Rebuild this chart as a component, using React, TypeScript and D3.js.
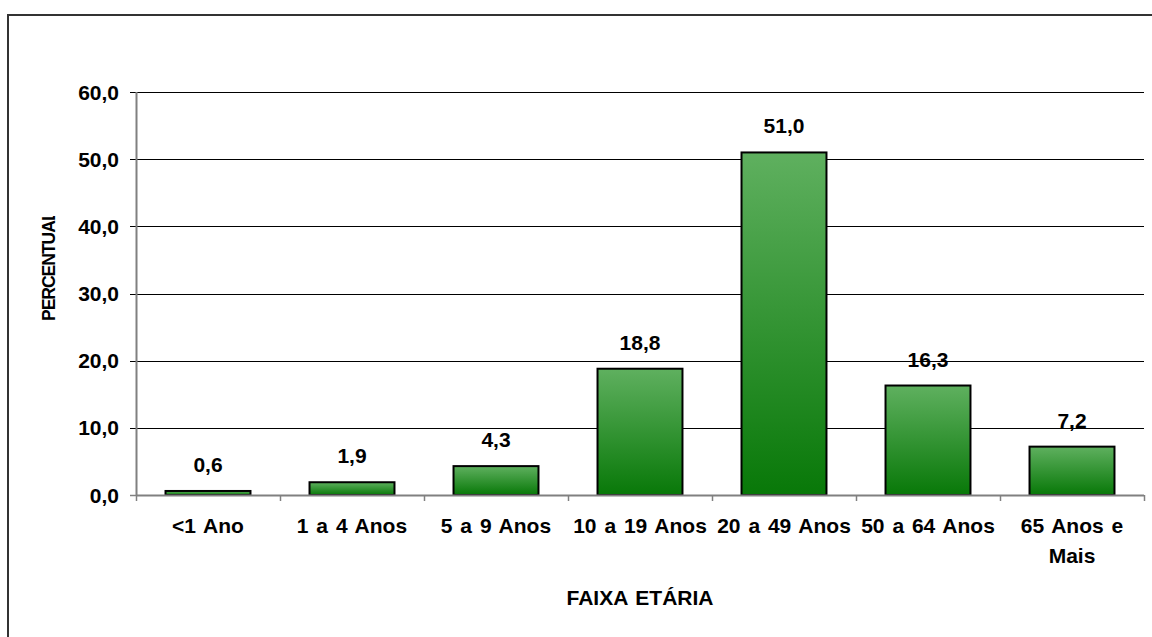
import React from 'react';
import * as d3 from 'd3';

const categories = ['<1 Ano', '1 a 4 Anos', '5 a 9 Anos', '10 a 19 Anos', '20 a 49 Anos', '50 a 64 Anos', '65 Anos e|Mais'];
const values = [0.6, 1.9, 4.3, 18.8, 51.0, 16.3, 7.2];
const yTicks = [0, 10, 20, 30, 40, 50, 60];

const W = 1152;
const H = 637;
const margin = { top: 92, right: 8, bottom: 142, left: 136 };
const font = '"Liberation Sans", Arial, sans-serif';
const fs = 21;

const fmt = (v: number) => v.toFixed(1).replace('.', ',');

export default function App() {
  const x = d3
    .scaleBand()
    .domain(categories)
    .range([margin.left, W - margin.right])
    .padding(0);
  const y = d3
    .scaleLinear()
    .domain([0, 60])
    .range([H - margin.bottom, margin.top]);

  const barW = x.step() * 0.59;
  const x0 = margin.left;
  const x1 = W - margin.right;
  const y0 = y(0);

  return (
    <svg
      width={W}
      height={H}
      style={{ position: 'absolute', left: 0, top: 0, background: '#fff' }}
      fontFamily={font}
      fontWeight="bold"
    >
      <defs>
        <linearGradient id="barGrad" x1="0" y1="0" x2="0" y2="1">
          <stop offset="0%" stopColor="#5fb05f" />
          <stop offset="100%" stopColor="#087808" />
        </linearGradient>
        <clipPath id="ylabClip">
          <rect x={0} y={216} width={120} height={200} />
        </clipPath>
      </defs>
      <rect x={8} y={15} width={1160} height={640} fill="#fff" stroke="#333" strokeWidth={2} />

      {/* gridlines + y ticks */}
      {yTicks.map((t) => (
        <g key={t}>
          {t > 0 && (
            <line x1={x0 - 6} x2={x1} y1={Math.round(y(t)) + 0.5} y2={Math.round(y(t)) + 0.5} stroke="#000" strokeWidth={1} />
          )}
          {t === 0 && (
            <line x1={x0 - 6} x2={x0} y1={Math.round(y(t)) + 0.5} y2={Math.round(y(t)) + 0.5} stroke="#808080" strokeWidth={1.5} />
          )}
          <text x={119} y={y(t)} dy="0.36em" textAnchor="end" fontSize={fs}>
            {fmt(t)}
          </text>
        </g>
      ))}

      {/* y axis */}
      <line x1={x0 + 0.5} x2={x0 + 0.5} y1={y(60)} y2={y0} stroke="#808080" strokeWidth={2} />

      {/* bars */}
      {categories.map((c, i) => {
        const cx = (x(c) as number) + x.step() / 2;
        const top = y(values[i]);
        return (
          <g key={c}>
            <rect
              x={cx - barW / 2}
              y={top}
              width={barW}
              height={y0 - top}
              fill="url(#barGrad)"
              stroke="#000"
              strokeWidth={2}
            />
            <text x={cx} y={top - 19} textAnchor="middle" fontSize={fs}>
              {fmt(values[i])}
            </text>
          </g>
        );
      })}

      {/* x axis */}
      <line x1={x0} x2={x1} y1={y0 + 0.5} y2={y0 + 0.5} stroke="#808080" strokeWidth={2} />
      {d3.range(categories.length + 1).map((i) => {
        const tx = Math.round(x0 + i * x.step()) + 0.5;
        return <line key={i} x1={tx} x2={tx} y1={y0} y2={y0 + 6} stroke="#808080" strokeWidth={1.5} />;
      })}
      {categories.map((c) => {
        const cx = (x(c) as number) + x.step() / 2;
        return (
          <text key={c} x={cx} y={533} textAnchor="middle" fontSize={fs} wordSpacing={2}>
            {c.split('|').map((line, j) => (
              <tspan key={j} x={cx} dy={j === 0 ? 0 : 30}>
                {line}
              </tspan>
            ))}
          </text>
        );
      })}

      {/* axis titles */}
      <text x={640} y={605} textAnchor="middle" fontSize={fs} wordSpacing={2}>
        FAIXA ETÁRIA
      </text>
      <g clipPath="url(#ylabClip)">
        <text transform="translate(55,321) rotate(-90)" textAnchor="start" fontSize={17.5} letterSpacing={-1}>
          PERCENTUAL
        </text>
      </g>
    </svg>
  );
}
